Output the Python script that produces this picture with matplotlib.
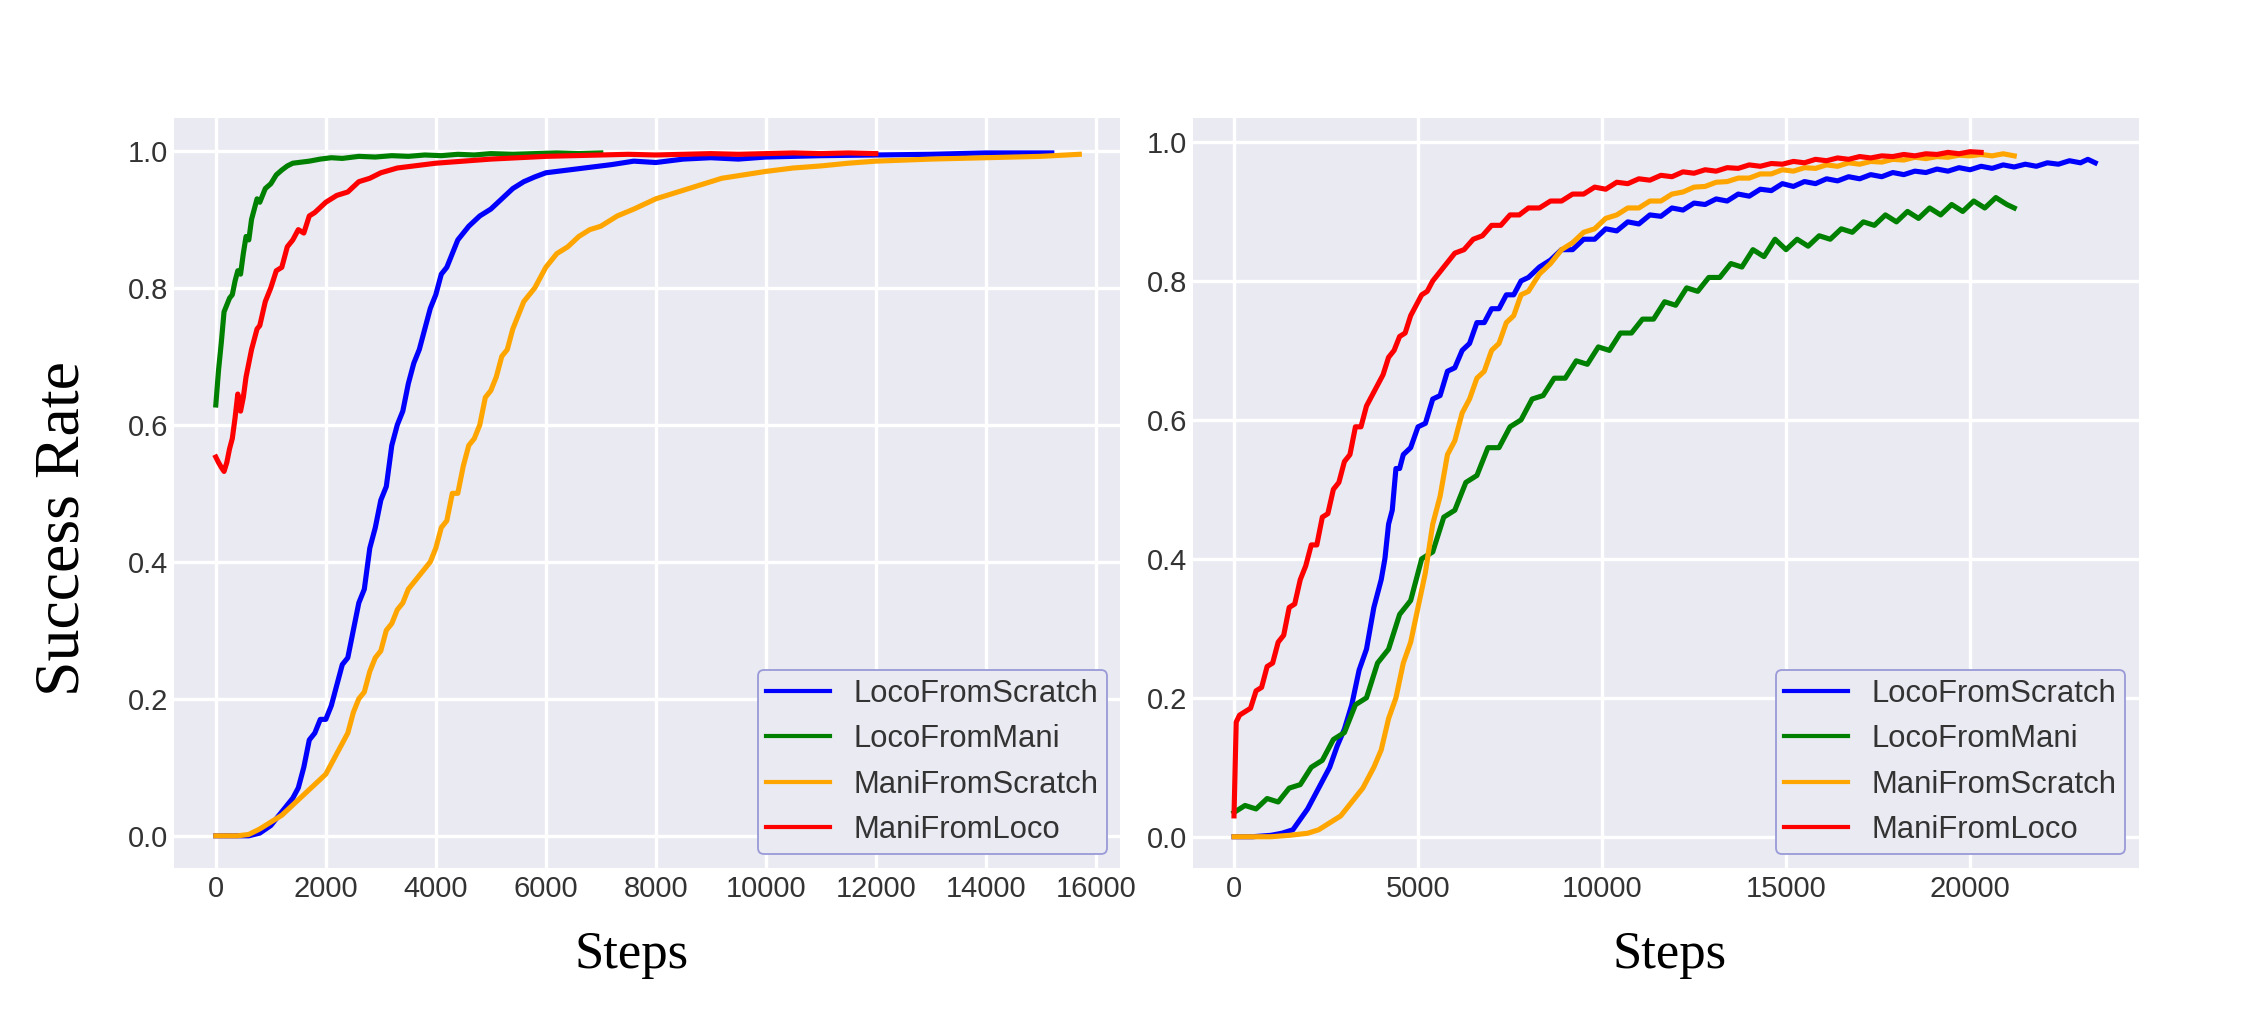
import matplotlib
matplotlib.use("Agg")
import matplotlib.pyplot as plt

# ---------------- data (steps, success rate) ----------------
series_names = ["LocoFromScratch", "LocoFromMani", "ManiFromScratch", "ManiFromLoco"]
series_colors = ["blue", "green", "orange", "red"]

left_loco_scratch = [(0, 0.0), (300, 0.0), (600, 0.0), (800, 0.004), (1000, 0.015), (1200, 0.035),
    (1400, 0.055), (1500, 0.07), (1600, 0.1), (1700, 0.14), (1800, 0.15), (1900, 0.17), (2000, 0.17),
    (2100, 0.19), (2200, 0.22), (2300, 0.25), (2400, 0.26), (2500, 0.3), (2600, 0.34), (2700, 0.36),
    (2800, 0.42), (2900, 0.45), (3000, 0.49), (3100, 0.51), (3200, 0.57), (3300, 0.6), (3400, 0.62),
    (3500, 0.66), (3600, 0.69), (3700, 0.71), (3800, 0.74), (3900, 0.77), (4000, 0.79), (4100, 0.82),
    (4200, 0.83), (4300, 0.85), (4400, 0.87), (4500, 0.88), (4600, 0.89), (4800, 0.905), (5000, 0.915),
    (5200, 0.93), (5400, 0.945), (5600, 0.955), (5800, 0.962), (6000, 0.968), (6400, 0.972),
    (6800, 0.976), (7200, 0.98), (7600, 0.985), (8000, 0.983), (8500, 0.988), (9000, 0.99),
    (9500, 0.988), (10000, 0.991), (11000, 0.993), (12000, 0.994), (13000, 0.995), (14000, 0.997),
    (15200, 0.997)]

left_loco_mani = [(0, 0.629), (50, 0.68), (100, 0.72), (150, 0.765), (200, 0.775), (250, 0.785),
    (300, 0.79), (350, 0.81), (400, 0.825), (450, 0.82), (500, 0.85), (550, 0.875), (600, 0.87),
    (650, 0.9), (700, 0.915), (750, 0.93), (800, 0.925), (900, 0.945), (1000, 0.952), (1100, 0.965),
    (1200, 0.972), (1300, 0.978), (1400, 0.982), (1500, 0.983), (1700, 0.985), (1900, 0.988),
    (2100, 0.99), (2300, 0.989), (2600, 0.992), (2900, 0.991), (3200, 0.993), (3500, 0.992),
    (3800, 0.994), (4100, 0.993), (4400, 0.995), (4700, 0.994), (5000, 0.996), (5400, 0.995),
    (5800, 0.996), (6200, 0.997), (6600, 0.996), (7000, 0.997)]

left_mani_scratch = [(0, 0.0), (200, 0.0), (400, 0.0), (600, 0.002), (800, 0.01), (1000, 0.02),
    (1200, 0.03), (1400, 0.045), (1600, 0.06), (1800, 0.075), (2000, 0.09), (2200, 0.12), (2400, 0.15),
    (2500, 0.18), (2600, 0.2), (2700, 0.21), (2800, 0.24), (2900, 0.26), (3000, 0.27), (3100, 0.3),
    (3200, 0.31), (3300, 0.33), (3400, 0.34), (3500, 0.36), (3600, 0.37), (3700, 0.38), (3800, 0.39),
    (3900, 0.4), (4000, 0.42), (4100, 0.45), (4200, 0.46), (4300, 0.5), (4400, 0.5), (4500, 0.54),
    (4600, 0.57), (4700, 0.58), (4800, 0.6), (4900, 0.64), (5000, 0.65), (5100, 0.67), (5200, 0.7),
    (5300, 0.71), (5400, 0.74), (5500, 0.76), (5600, 0.78), (5800, 0.8), (6000, 0.83), (6200, 0.85),
    (6400, 0.86), (6600, 0.875), (6800, 0.885), (7000, 0.89), (7300, 0.905), (7600, 0.915),
    (8000, 0.93), (8400, 0.94), (8800, 0.95), (9200, 0.96), (9600, 0.965), (10000, 0.97),
    (10500, 0.975), (11000, 0.978), (11500, 0.982), (12000, 0.985), (13000, 0.988), (14000, 0.99),
    (15000, 0.992), (15700, 0.995)]

left_mani_loco = [(0, 0.553), (50, 0.545), (100, 0.538), (150, 0.532), (200, 0.545), (250, 0.565),
    (300, 0.58), (350, 0.61), (400, 0.645), (450, 0.62), (500, 0.64), (550, 0.67), (600, 0.69),
    (650, 0.71), (700, 0.725), (750, 0.74), (800, 0.745), (900, 0.78), (1000, 0.8), (1100, 0.825),
    (1200, 0.83), (1300, 0.86), (1400, 0.87), (1500, 0.885), (1600, 0.88), (1700, 0.905), (1800, 0.91),
    (2000, 0.925), (2200, 0.935), (2400, 0.94), (2600, 0.955), (2800, 0.96), (3000, 0.968),
    (3300, 0.975), (3600, 0.978), (4000, 0.982), (4500, 0.985), (5000, 0.988), (5500, 0.99),
    (6000, 0.992), (6500, 0.993), (7000, 0.994), (7500, 0.995), (8000, 0.994), (8500, 0.995),
    (9000, 0.996), (9500, 0.995), (10000, 0.996), (10500, 0.997), (11000, 0.996), (11500, 0.997),
    (12000, 0.996)]

right_loco_scratch = [(0, 0.0), (500, 0.0), (1000, 0.002), (1300, 0.005), (1600, 0.01), (1800, 0.025),
    (2000, 0.04), (2200, 0.06), (2400, 0.08), (2600, 0.1), (2800, 0.13), (3000, 0.155), (3200, 0.19),
    (3400, 0.24), (3600, 0.27), (3800, 0.33), (4000, 0.37), (4100, 0.4), (4200, 0.45), (4300, 0.47),
    (4400, 0.53), (4500, 0.53), (4600, 0.55), (4800, 0.56), (5000, 0.59), (5200, 0.595), (5400, 0.63),
    (5600, 0.635), (5800, 0.67), (6000, 0.675), (6200, 0.7), (6400, 0.71), (6600, 0.74), (6800, 0.74),
    (7000, 0.76), (7200, 0.76), (7400, 0.78), (7600, 0.78), (7800, 0.8), (8000, 0.805), (8300, 0.82),
    (8600, 0.83), (8900, 0.845), (9200, 0.845), (9500, 0.86), (9800, 0.86), (10100, 0.875),
    (10400, 0.872), (10700, 0.885), (11000, 0.882), (11300, 0.895), (11600, 0.893), (11900, 0.905),
    (12200, 0.902), (12500, 0.912), (12800, 0.91), (13100, 0.918), (13400, 0.915), (13700, 0.925),
    (14000, 0.922), (14300, 0.932), (14600, 0.93), (14900, 0.94), (15200, 0.936), (15500, 0.943),
    (15800, 0.94), (16100, 0.947), (16400, 0.944), (16700, 0.95), (17000, 0.947), (17300, 0.953),
    (17600, 0.95), (17900, 0.956), (18200, 0.953), (18500, 0.958), (18800, 0.956), (19100, 0.961),
    (19400, 0.958), (19700, 0.963), (20000, 0.96), (20300, 0.965), (20600, 0.962), (20900, 0.967),
    (21200, 0.964), (21500, 0.968), (21800, 0.965), (22100, 0.97), (22400, 0.968), (22700, 0.973),
    (23000, 0.97), (23200, 0.975), (23400, 0.97)]

right_loco_mani = [(0, 0.035), (300, 0.045), (600, 0.04), (900, 0.055), (1200, 0.05), (1500, 0.07),
    (1800, 0.075), (2100, 0.1), (2400, 0.11), (2700, 0.14), (3000, 0.15), (3300, 0.19), (3600, 0.2),
    (3900, 0.25), (4200, 0.27), (4500, 0.32), (4800, 0.34), (5100, 0.4), (5400, 0.41), (5700, 0.46),
    (6000, 0.47), (6300, 0.51), (6600, 0.52), (6900, 0.56), (7200, 0.56), (7500, 0.59), (7800, 0.6),
    (8100, 0.63), (8400, 0.635), (8700, 0.66), (9000, 0.66), (9300, 0.685), (9600, 0.68),
    (9900, 0.705), (10200, 0.7), (10500, 0.725), (10800, 0.725), (11100, 0.745), (11400, 0.745),
    (11700, 0.77), (12000, 0.765), (12300, 0.79), (12600, 0.785), (12900, 0.805), (13200, 0.805),
    (13500, 0.825), (13800, 0.82), (14100, 0.845), (14400, 0.835), (14700, 0.86), (15000, 0.845),
    (15300, 0.86), (15600, 0.85), (15900, 0.865), (16200, 0.86), (16500, 0.875), (16800, 0.87),
    (17100, 0.885), (17400, 0.88), (17700, 0.895), (18000, 0.885), (18300, 0.9), (18600, 0.89),
    (18900, 0.905), (19200, 0.895), (19500, 0.91), (19800, 0.9), (20100, 0.915), (20400, 0.905),
    (20700, 0.92), (21000, 0.91), (21200, 0.905)]

right_mani_scratch = [(0, 0.0), (500, 0.0), (1000, 0.0), (1500, 0.002), (2000, 0.005), (2300, 0.01),
    (2600, 0.02), (2900, 0.03), (3200, 0.05), (3500, 0.07), (3800, 0.1), (4000, 0.125), (4200, 0.17),
    (4400, 0.2), (4600, 0.25), (4800, 0.28), (5000, 0.33), (5200, 0.38), (5400, 0.45), (5600, 0.49),
    (5800, 0.55), (6000, 0.57), (6200, 0.61), (6400, 0.63), (6600, 0.66), (6800, 0.67), (7000, 0.7),
    (7200, 0.71), (7400, 0.74), (7600, 0.75), (7800, 0.78), (8000, 0.785), (8300, 0.81), (8600, 0.825),
    (8900, 0.845), (9200, 0.855), (9500, 0.87), (9800, 0.875), (10100, 0.89), (10400, 0.895),
    (10700, 0.905), (11000, 0.905), (11300, 0.915), (11600, 0.915), (11900, 0.925), (12200, 0.928),
    (12500, 0.935), (12800, 0.936), (13100, 0.942), (13400, 0.943), (13700, 0.948), (14000, 0.948),
    (14300, 0.954), (14600, 0.954), (14900, 0.96), (15200, 0.958), (15500, 0.963), (15800, 0.962),
    (16100, 0.967), (16400, 0.965), (16700, 0.97), (17000, 0.968), (17300, 0.972), (17600, 0.971),
    (17900, 0.975), (18200, 0.974), (18500, 0.978), (18800, 0.976), (19100, 0.979), (19400, 0.978),
    (19700, 0.981), (20000, 0.98), (20300, 0.982), (20600, 0.98), (20900, 0.983), (21200, 0.98)]

right_mani_loco = [(0, 0.03), (60, 0.165), (150, 0.175), (300, 0.18), (450, 0.185), (600, 0.21),
    (750, 0.215), (900, 0.245), (1050, 0.25), (1200, 0.28), (1350, 0.29), (1500, 0.33), (1650, 0.335),
    (1800, 0.37), (1950, 0.39), (2100, 0.42), (2250, 0.42), (2400, 0.46), (2550, 0.465), (2700, 0.5),
    (2850, 0.51), (3000, 0.54), (3150, 0.55), (3300, 0.59), (3450, 0.59), (3600, 0.62), (3750, 0.635),
    (3900, 0.65), (4050, 0.665), (4200, 0.69), (4350, 0.7), (4500, 0.72), (4650, 0.725), (4800, 0.75),
    (4950, 0.765), (5100, 0.78), (5250, 0.785), (5400, 0.8), (5550, 0.81), (5700, 0.82), (5850, 0.83),
    (6000, 0.84), (6250, 0.845), (6500, 0.86), (6750, 0.865), (7000, 0.88), (7250, 0.88),
    (7500, 0.895), (7750, 0.895), (8000, 0.905), (8300, 0.905), (8600, 0.915), (8900, 0.915),
    (9200, 0.925), (9500, 0.925), (9800, 0.935), (10100, 0.932), (10400, 0.942), (10700, 0.94),
    (11000, 0.947), (11300, 0.945), (11600, 0.952), (11900, 0.95), (12200, 0.957), (12500, 0.955),
    (12800, 0.96), (13100, 0.958), (13400, 0.963), (13700, 0.962), (14000, 0.967), (14300, 0.965),
    (14600, 0.969), (14900, 0.968), (15200, 0.972), (15500, 0.97), (15800, 0.975), (16100, 0.973),
    (16400, 0.977), (16700, 0.975), (17000, 0.979), (17300, 0.977), (17600, 0.98), (17900, 0.979),
    (18200, 0.982), (18500, 0.98), (18800, 0.983), (19100, 0.982), (19400, 0.985), (19700, 0.983),
    (20000, 0.986), (20300, 0.985)]

left_series = [left_loco_scratch, left_loco_mani, left_mani_scratch, left_mani_loco]
right_series = [right_loco_scratch, right_loco_mani, right_mani_scratch, right_mani_loco]

left_xticks = [0, 2000, 4000, 6000, 8000, 10000, 12000, 14000, 16000]
right_xticks = [0, 5000, 10000, 15000, 20000]
yticks = [0.0, 0.2, 0.4, 0.6, 0.8, 1.0]

# ---------------- figure ----------------
W, H = 2262, 1016
fig = plt.figure(figsize=(W / 100, H / 100), dpi=100)

def make_axes(px_left, px_right, px_top, px_bottom):
    return fig.add_axes([px_left / W, 1 - px_bottom / H, (px_right - px_left) / W, (px_bottom - px_top) / H])

ax_l = make_axes(174, 1120, 118, 868)
ax_r = make_axes(1193, 2139, 118, 868)

tick_font = "Liberation Sans"
for ax, data, xticks, xlim, ylim, leg_anchor in [
        (ax_l, left_series, left_xticks, (-760, 16440), (-0.047, 1.048), (0.986, 0.019)),
        (ax_r, right_series, right_xticks, (-1114, 24590), (-0.045, 1.0345), (0.985, 0.019))]:
    ax.set_facecolor("#eaeaf2")
    for s in ax.spines.values():
        s.set_visible(False)
    ax.set_axisbelow(True)
    ax.grid(True, color="white", linewidth=2.4)
    for d, name, col in zip(data, series_names, series_colors):
        xs = [p[0] for p in d]
        ys = [p[1] for p in d]
        ax.plot(xs, ys, color=col, linewidth=3.7, label=name, solid_joinstyle="round")
    ax.set_xticks(xticks)
    ax.set_yticks(yticks)
    ax.set_xticklabels([str(t) for t in xticks])
    ax.set_yticklabels([f"{t:.1f}" for t in yticks])
    ax.set_xlim(*xlim)
    ax.set_ylim(*ylim)
    ax.tick_params(axis="both", length=0, labelsize=21, labelcolor="#333333")
    ax.tick_params(axis="x", pad=5)
    ax.tick_params(axis="y", pad=4)
    for lab in ax.get_xticklabels() + ax.get_yticklabels():
        lab.set_fontfamily(tick_font)
    leg = ax.legend(loc="lower right", bbox_to_anchor=leg_anchor, borderaxespad=0,
                    prop={"family": tick_font, "size": 22.3}, frameon=True, fancybox=True,
                    facecolor="#eaeaf2", edgecolor="#9a9ad8", framealpha=1.0,
                    handlelength=2.05, handletextpad=0.75, labelspacing=0.5, borderpad=0.28)
    leg.get_frame().set_linewidth(1.3)
    for t in leg.get_texts():
        t.set_color("#333333")
    for lh in leg.get_lines():
        lh.set_linewidth(3.0)

serif = "Liberation Serif"
fig.text(64 / W, 1 - 529 / H, "Success Rate", rotation=90, ha="center", va="center",
         fontsize=46, family=serif, color="black")
fig.text(632 / W, 1 - 968 / H, "Steps", ha="center", va="baseline", fontsize=38, family=serif, color="black")
fig.text(1670 / W, 1 - 968 / H, "Steps", ha="center", va="baseline", fontsize=38, family=serif, color="black")

fig.savefig("out.png", dpi=100, facecolor="white")
